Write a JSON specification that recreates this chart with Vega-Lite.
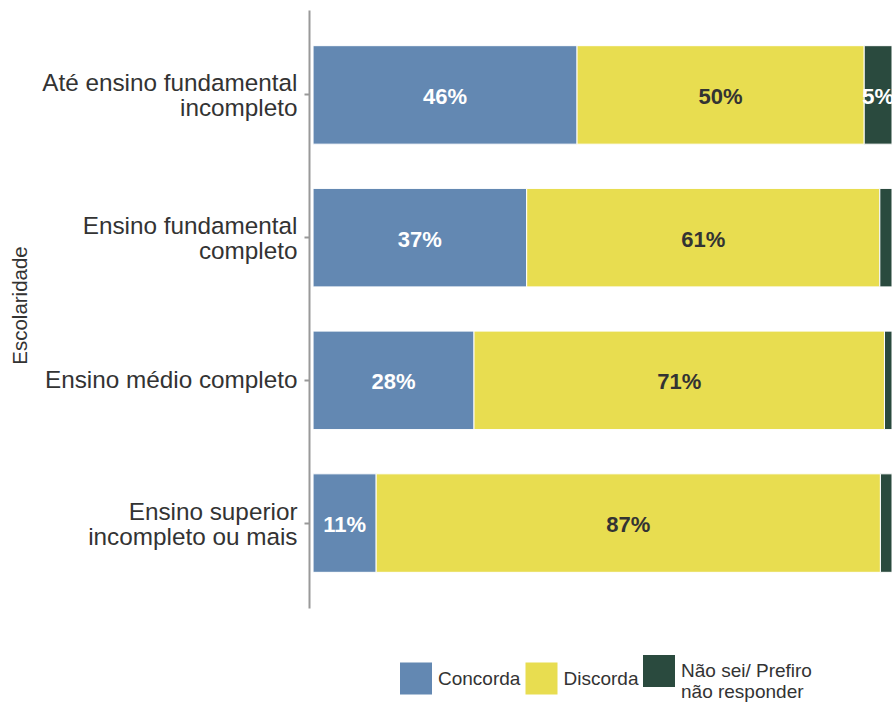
{
  "$schema": "https://vega.github.io/schema/vega-lite/v6.json",
  "autosize": "none",
  "width": 583,
  "height": 598,
  "padding": {"left": 309, "top": 10, "right": 0, "bottom": 94},
  "background": "white",
  "config": {
    "view": {"stroke": null},
    "font": "Liberation Sans"
  },
  "data": {
    "values": [
      {"escolaridade": "Até ensino fundamental incompleto", "resposta": "Concorda", "valor": 0.456},
      {"escolaridade": "Até ensino fundamental incompleto", "resposta": "Discorda", "valor": 0.496},
      {"escolaridade": "Até ensino fundamental incompleto", "resposta": "Não sei/ Prefiro não responder", "valor": 0.048},
      {"escolaridade": "Ensino fundamental completo", "resposta": "Concorda", "valor": 0.369},
      {"escolaridade": "Ensino fundamental completo", "resposta": "Discorda", "valor": 0.61},
      {"escolaridade": "Ensino fundamental completo", "resposta": "Não sei/ Prefiro não responder", "valor": 0.021},
      {"escolaridade": "Ensino médio completo", "resposta": "Concorda", "valor": 0.278},
      {"escolaridade": "Ensino médio completo", "resposta": "Discorda", "valor": 0.709},
      {"escolaridade": "Ensino médio completo", "resposta": "Não sei/ Prefiro não responder", "valor": 0.013},
      {"escolaridade": "Ensino superior incompleto ou mais", "resposta": "Concorda", "valor": 0.109},
      {"escolaridade": "Ensino superior incompleto ou mais", "resposta": "Discorda", "valor": 0.871},
      {"escolaridade": "Ensino superior incompleto ou mais", "resposta": "Não sei/ Prefiro não responder", "valor": 0.02}
    ]
  },
  "transform": [
    {"stack": "valor", "groupby": ["escolaridade"], "sort": [{"field": "resposta", "order": "ascending"}], "as": ["x0", "x1"]}
  ],
  "encoding": {
    "y": {
      "field": "escolaridade",
      "type": "nominal",
      "sort": ["Até ensino fundamental incompleto", "Ensino fundamental completo", "Ensino médio completo", "Ensino superior incompleto ou mais"],
      "scale": {"paddingInner": 0.31, "paddingOuter": 0.25},
      "axis": {
        "title": "Escolaridade",
        "titleFont": "Liberation Sans",
        "titleFontSize": 20.5,
        "titleFontWeight": "normal",
        "titleColor": "#333333",
        "titleAngle": 270,
        "titleX": -289,
        "titleY": 295,
        "titleBaseline": "middle",
        "labelFont": "Liberation Sans",
        "labelFontSize": 24.3,
        "labelColor": "#333333",
        "labelLineHeight": 25,
        "labelPadding": 7,
        "labelLimit": 400,
        "labelOffset": {"condition": {"test": "datum.value == 'Ensino médio completo'", "value": 1}, "value": -10.5},
        "labelExpr": "datum.value == 'Até ensino fundamental incompleto' ? ['Até ensino fundamental', 'incompleto'] : datum.value == 'Ensino fundamental completo' ? ['Ensino fundamental', 'completo'] : datum.value == 'Ensino superior incompleto ou mais' ? ['Ensino superior', 'incompleto ou mais'] : datum.value",
        "domainColor": "#999999",
        "domainWidth": 2,
        "tickColor": "#999999",
        "tickWidth": 2,
        "tickSize": 5
      }
    }
  },
  "layer": [
    {
      "mark": {"type": "bar", "stroke": "white", "strokeWidth": 1},
      "encoding": {
        "x": {"field": "x0", "type": "quantitative", "scale": {"domain": [-0.007, 1], "nice": false, "zero": false}, "axis": null},
        "x2": {"field": "x1"},
        "color": {
          "field": "resposta",
          "type": "nominal",
          "scale": {"domain": ["Concorda", "Discorda", "Não sei/ Prefiro não responder"], "range": ["#6388b2", "#e8dd50", "#2a4a3e"]},
          "legend": {
            "title": null,
            "orient": "none",
            "direction": "horizontal",
            "legendX": 91,
            "legendY": 645,
            "symbolType": "square",
            "symbolSize": 1024,
            "symbolStrokeWidth": 0,
            "labelFont": "Liberation Sans",
            "labelFontSize": 19,
            "labelColor": "#333333",
            "labelOffset": 6,
            "labelLineHeight": 20,
            "labelLimit": 300,
            "columnPadding": 4.5,
            "labelExpr": "datum.value == 'Não sei/ Prefiro não responder' ? ['Não sei/ Prefiro', 'não responder'] : datum.value"
          }
        }
      }
    },
    {
      "transform": [
        {"filter": "datum.valor >= 0.03"},
        {"fold": ["x0", "x1"], "as": ["k", "pos"]}
      ],
      "mark": {"type": "text", "font": "Liberation Sans", "fontSize": 22, "fontWeight": "bold", "align": "center", "baseline": "middle", "dy": 2},
      "encoding": {
        "x": {"field": "pos", "aggregate": "mean", "type": "quantitative", "scale": {"domain": [-0.007, 1], "nice": false, "zero": false}, "axis": null},
        "detail": {"field": "resposta", "type": "nominal"},
        "text": {"field": "valor", "type": "quantitative", "format": ".0%"},
        "color": {"condition": {"test": "datum.resposta == 'Discorda'", "value": "#333333"}, "value": "white"}
      }
    }
  ]
}
